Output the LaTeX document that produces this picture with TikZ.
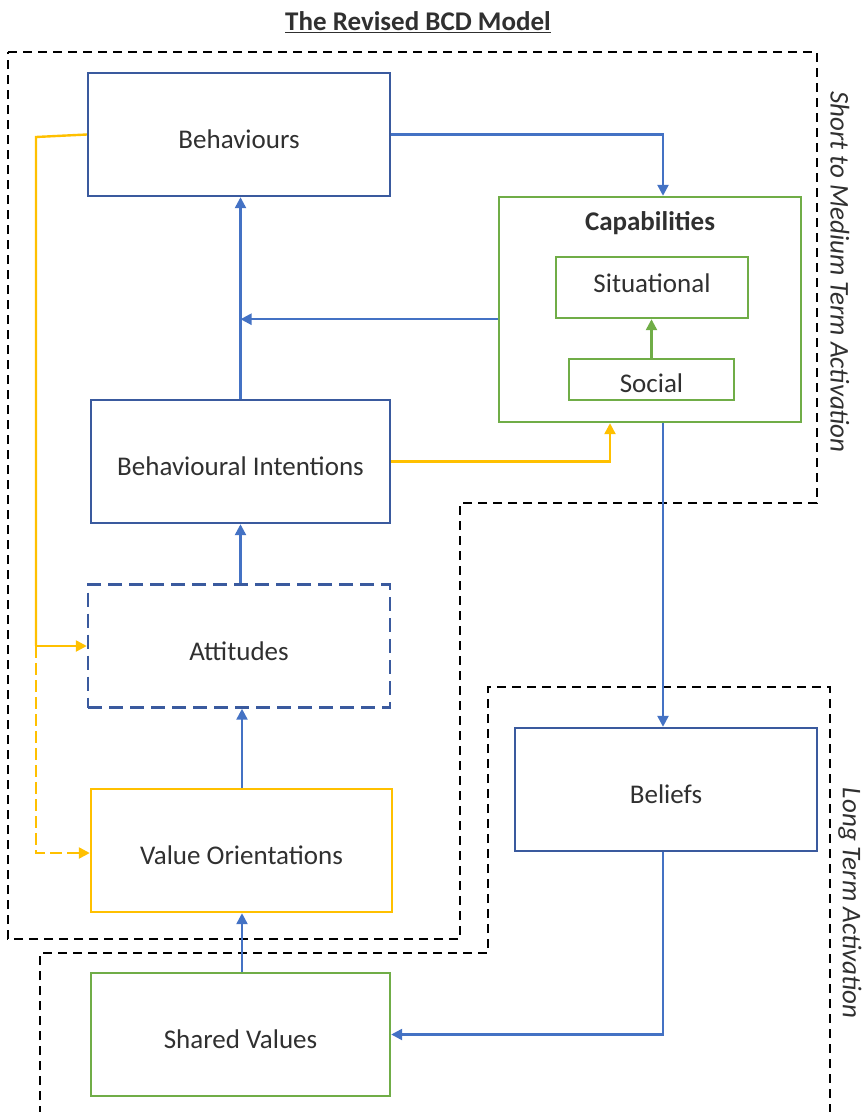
\documentclass[tikz,border=0pt]{standalone}
\usepackage{fontspec}
\setmainfont{Carlito}
\usetikzlibrary{arrows.meta,calc}

\definecolor{boxblue}{HTML}{3A5A9E}
\definecolor{lineblue}{HTML}{4472C4}
\definecolor{boxgreen}{HTML}{70AD47}
\definecolor{boxyellow}{HTML}{FFC000}
\definecolor{txt}{HTML}{303030}

\tikzset{
  every node/.style={font=\fontsize{27}{32}\selectfont, text=txt},
  boxtext/.style={text height=28pt, text depth=0pt},
  box/.style={boxtext, draw, line width=2.4pt, minimum width=#1, inner sep=0pt},
  bluebox/.style={box=302pt, draw=boxblue, minimum height=123pt},
  greenbox/.style={draw=boxgreen, line width=2.4pt, inner sep=0pt},
  yellowbox/.style={box=301pt, draw=boxyellow, minimum height=123pt},
  tip/.style={-{Triangle[length=11pt,width=11pt]}},
  barrow/.style={tip, draw=lineblue, line width=2.4pt},
  garrow/.style={tip, draw=boxgreen, line width=2.4pt},
  yarrow/.style={tip, draw=boxyellow, line width=2.4pt},
  yline/.style={draw=boxyellow, line width=2.4pt},
  zone/.style={draw=black, line width=2.4pt, dash pattern=on 9pt off 6pt},
  sidelabel/.style={font=\fontsize{27}{32}\selectfont\itshape, rotate=-90}
}

\begin{document}
\begin{tikzpicture}[x=1pt, y=-1pt]
\useasboundingbox (0,0) rectangle (862,1112);

% title
\node (title) at (418,22) {\bfseries\underline{The Revised BCD Model}};

% activation zones
\draw[zone] (8,52) -- (817,52) -- (817,503) -- (460,503) -- (460,939) -- (8,939) -- cycle;
\draw[zone] (40,1115) -- (40,953) -- (488,953) -- (488,687) -- (830,687) -- (830,1115);
\node[sidelabel] (shortlbl) at (840,272) {Short to Medium Term Activation};
\node[sidelabel] (longlbl) at (850,903) {Long Term Activation};

% left column
\node[bluebox] (beh) at (239,134.5) {Behaviours};
\node[bluebox, minimum width=299pt] (bi) at (240.5,461.5) {Behavioural Intentions};
\node[bluebox, dash pattern=on 14pt off 7pt] (att) at (239,646) {Attitudes};
\node[yellowbox] (vo) at (241.5,850.5) {Value Orientations};
\node[greenbox, boxtext, minimum width=299pt, minimum height=123pt] (sh) at (240.5,1034.5) {Shared Values};

% right column
\node[greenbox, minimum width=302pt, minimum height=225pt] (cap) at (650,309.5) {};
\node (caplbl) at (650,223) {\bfseries Capabilities};
\node[greenbox, text height=19pt, text depth=9pt, minimum width=192pt, minimum height=61pt] (sit) at (652,287.5) {Situational};
\node[greenbox, text height=26pt, text depth=0pt, minimum width=165pt, minimum height=41pt] (soc) at (651.5,379.5) {Social};
\node[bluebox] (bel) at (666,789.5) {Beliefs};

% blue influences
\draw[barrow] (bi.north) -- (bi.north |- beh.south);
\draw[barrow] (att.north) ++(1.5,0) coordinate (attn) -- (attn |- bi.south);
\draw[barrow] (vo.north) ++(0.5,0) coordinate (von) -- (von |- att.south);
\draw[barrow] (sh.north) ++(1.5,0) coordinate (shn) -- (shn |- vo.south);
\draw[barrow] (beh.east) -| ([xshift=13pt]cap.north);
\draw[barrow] (cap.west |- sit.south) -- (bi.north |- sit.south);
\draw[barrow] ([xshift=13pt]cap.south) -- ([xshift=13pt]cap.south |- bel.north);
\draw[barrow] ([xshift=-3pt]bel.south) |- (sh.east);

% capabilities internal
\draw[garrow] (soc.north) -- (soc.north |- sit.south);

% yellow influences
\coordinate (ybend) at (36,137);
\draw[yline] (beh.west) -- (ybend) -- (ybend |- att.west) coordinate (ysplit);
\draw[yarrow] (ysplit) -- (att.west);
\draw[yarrow, dash pattern=on 12pt off 5pt] (ysplit) |- ([yshift=-2.5pt]vo.west);
\draw[yarrow] (bi.east) -| ([xshift=-40pt]cap.south);
\end{tikzpicture}
\end{document}
